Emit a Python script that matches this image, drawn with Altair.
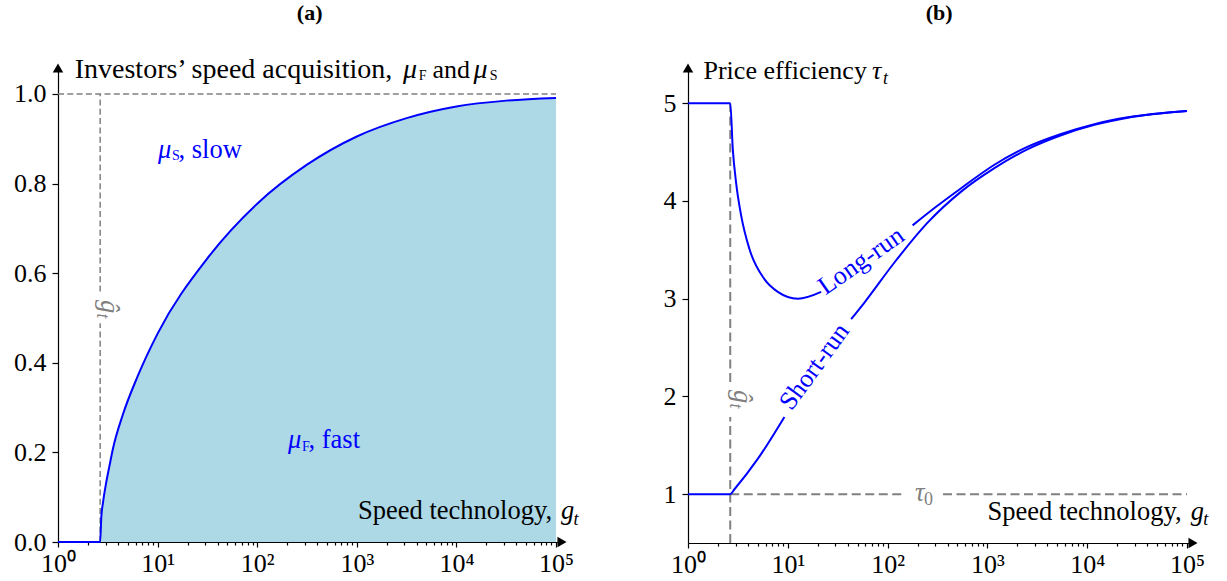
import altair as alt
import pandas as pd

FONT = "Liberation Serif"
FS = 26.5
TICK_FS = 26
SUB = 18
SC = 14
BLUE = "#0000ff"
GRAY = "#808080"
FILL = "#add8e6"

G_HAT = 2.65
X_MAX = 10 ** 5.06

MAJOR_X = [1, 10, 100, 1000, 10000, 100000]
MINOR_X = [m * 10 ** k for k in range(5) for m in range(2, 10)]
LEFT_Y_TICKS = [0.0, 0.2, 0.4, 0.6, 0.8, 1.0]
RIGHT_Y_TICKS = [1, 2, 3, 4, 5]

# ---- panel (a): fast investors' share mu_F vs speed technology g_t
g_a = [1.0, 2.65, 2.72, 2.83, 3.06, 3.30, 3.56, 4.49, 6.31, 10, 31.6, 100,
       316, 1000, 3162, 10000, 31623, 100000]
mu_fast = [0.0, 0.0, 0.055, 0.088, 0.135, 0.172, 0.208, 0.285, 0.37, 0.465, 0.633, 0.755,
           0.842, 0.905, 0.946, 0.972, 0.985, 0.991]

# ---- panel (b): price efficiency tau_t
g_long = [1.0, 2.65, 2.81, 3.03, 3.41, 4.12, 5.83, 7.94, 12.6, 21.6, 38.3, 68.2,
          108, 178, 306, 545, 1175, 2540, 5480, 11800, 25500, 100000]
tau_long = [5.0, 5.0, 4.53, 4.19, 3.85, 3.51, 3.20, 3.07, 3.00, 3.07, 3.22, 3.42,
            3.58, 3.75, 3.94, 4.13, 4.37, 4.555, 4.685, 4.785, 4.855, 4.92]
g_short = [1.0, 2.65, 2.92, 5.0, 9.25, 17.1, 27.2, 43.1, 58.6, 117, 253, 545,
           1175, 2540, 5480, 11800, 25500, 100000]
tau_short = [1.0, 1.0, 1.05, 1.36, 1.79, 2.20, 2.50, 2.79, 2.96, 3.37, 3.78, 4.095,
             4.335, 4.53, 4.672, 4.778, 4.852, 4.92]

LONG_GAP = (21.6, 178)
SHORT_GAP = (9.25, 43.1)

LABEL_EXPR = "'10' + ['\u2070','\u00b9','\u00b2','\u00b3','\u2074','\u2075'][round(log(datum.value) / LN10)]"


def xdef():
    return alt.X("g:Q",
                 scale=alt.Scale(type="log", domain=[1, X_MAX], nice=False),
                 axis=alt.Axis(values=MAJOR_X, labelExpr=LABEL_EXPR, tickSize=5,
                               labelPadding=3, title=None, grid=False, orient="bottom",
                               labelFlush=False, labelOverlap=False))


def xminor():
    return alt.X("g:Q",
                 scale=alt.Scale(type="log", domain=[1, X_MAX], nice=False),
                 axis=alt.Axis(values=MINOR_X, labels=False, domain=False, tickSize=3,
                               title=None, grid=False, orient="bottom"))


def ydef(domain, ticks, fmt):
    return alt.Y("v:Q",
                 scale=alt.Scale(domain=domain, nice=False, zero=False),
                 axis=alt.Axis(values=ticks, format=fmt, tickSize=6, labelPadding=6,
                               title=None, grid=False, labelFlush=False, labelOverlap=False))


def ptext(text, x, y, size=FS, color="black", italic=False, bold=False,
          align="left", baseline="alphabetic", angle=0):
    kw = dict(font=FONT, fontSize=size, color=color, align=align, baseline=baseline)
    if italic:
        kw["fontStyle"] = "italic"
    if bold:
        kw["fontWeight"] = "bold"
    if angle:
        kw["angle"] = angle
    return alt.Chart(pd.DataFrame({"t": [text]})).mark_text(**kw).encode(
        x=alt.value(x), y=alt.value(y), text="t:N")


def rules(rows, X, Y, width, dash):
    df = pd.DataFrame(rows, columns=["g", "g2", "v", "v2"])
    return alt.Chart(df).mark_rule(color=GRAY, strokeWidth=width, strokeDash=dash).encode(
        x=X, x2="g2:Q", y=Y, y2="v2:Q")


def arrows(X, Y, ymin, ymax):
    a1 = alt.Chart(pd.DataFrame({"g": [X_MAX], "v": [ymin]})).mark_point(
        shape="triangle-right", filled=True, color="black", size=110, opacity=1).encode(x=X, y=Y)
    a2 = alt.Chart(pd.DataFrame({"g": [1.0], "v": [ymax]})).mark_point(
        shape="triangle-up", filled=True, color="black", size=110, opacity=1).encode(x=X, y=Y)
    return [a1, a2]


def panel(layers, Y, ymin, W, H):
    inner = alt.layer(*layers)
    minor = alt.Chart(pd.DataFrame({"g": [1.0], "v": [ymin]})).mark_point(
        opacity=0).encode(x=xminor(), y=Y)
    return alt.layer(inner, minor).resolve_axis(x="independent").properties(width=W, height=H)


# ================= panel (a) =================
YA_DOM = [0, 1.0578]
Xa = xdef()
Ya = ydef(YA_DOM, LEFT_Y_TICKS, ".1f")
df_a = pd.DataFrame({"g": g_a, "v": mu_fast})

area_a = alt.Chart(df_a).mark_area(color=FILL, opacity=1, interpolate="monotone").encode(x=Xa, y=Ya)
line_a = alt.Chart(df_a).mark_line(color=BLUE, strokeWidth=2, interpolate="monotone").encode(x=Xa, y=Ya)
dash_a = rules([[1.0, 100000, 1.0, 1.0],
                [G_HAT, G_HAT, 0.0, 0.488],
                [G_HAT, G_HAT, 0.559, 1.0]], Xa, Ya, 1.5, [6, 3.3])

text_a = [
    ptext("(a)", 251.7, -48.4, size=22, bold=True, align="center"),
    ptext("Investors\u2019 speed acquisition,", 16.7, 10.3, size=28),
    ptext("\u03bc", 345.0, 10.3, size=28, italic=True),
    ptext("F", 360.7, 11.5, size=SC),
    ptext("and", 374.5, 10.3, size=26),
    ptext("\u03bc", 415.5, 10.3, size=28, italic=True),
    ptext("S", 431.7, 11.5, size=SC),
    ptext("\u03bc", 100.0, 89.6, italic=True, color=BLUE),
    ptext("S", 114.0, 91.6, size=SC, color=BLUE),
    ptext(", slow", 120.5, 89.6, color=BLUE),
    ptext("\u03bc", 230.0, 380.3, italic=True, color=BLUE),
    ptext("F", 244.0, 382.9, size=SC, color=BLUE),
    ptext(", fast", 250.5, 380.3, color=BLUE),
    ptext("Speed technology,", 300.0, 451.1),
    ptext("g", 503.0, 451.1, italic=True),
    ptext("t", 515.5, 457.1, size=SUB, italic=True),
    ptext("\u011d", 43.4, 231.9, italic=True, color=GRAY, angle=90),
    ptext("t", 39.4, 245.4, size=SUB, italic=True, color=GRAY, angle=90),
]

left = panel([area_a, dash_a, line_a] + arrows(Xa, Ya, YA_DOM[0], YA_DOM[1]) + text_a,
             Ya, YA_DOM[0], 504, 474)

# ================= panel (b) =================
YB_DOM = [0.5, 5.36]
Xb = xdef()
Yb = ydef(YB_DOM, RIGHT_Y_TICKS, "d")


def seg_df(gs, vs, gap):
    rows = []
    for g, v in zip(gs, vs):
        if g <= gap[0]:
            rows.append({"g": g, "v": v, "seg": 0})
        elif g >= gap[1]:
            rows.append({"g": g, "v": v, "seg": 1})
    return pd.DataFrame(rows)


long_line = alt.Chart(seg_df(g_long, tau_long, LONG_GAP)).mark_line(
    color=BLUE, strokeWidth=2, interpolate="monotone").encode(x=Xb, y=Yb, detail="seg:N")
short_line = alt.Chart(seg_df(g_short, tau_short, SHORT_GAP)).mark_line(
    color=BLUE, strokeWidth=2, interpolate="monotone").encode(x=Xb, y=Yb, detail="seg:N")
dash_b = rules([[G_HAT, G_HAT, 0.5, 1.788],
                [G_HAT, G_HAT, 2.147, 5.0],
                [G_HAT, 149, 1.0, 1.0],
                [359, 100000, 1.0, 1.0]], Xb, Yb, 2, [9, 4.5])

text_b = [
    ptext("(b)", 251.1, -48.4, size=22, bold=True, align="center"),
    ptext("Price efficiency", 15.5, 11.1, size=26),
    ptext("\u03c4", 184.1, 11.1, size=26, italic=True),
    ptext("t", 195.0, 16.2, size=SUB, italic=True),
    ptext("Speed technology,", 299.6, 451.5),
    ptext("g", 502.7, 451.5, italic=True),
    ptext("t", 515.2, 457.3, size=SUB, italic=True),
    ptext("\u03c4", 227.1, 433.2, italic=True, color=GRAY),
    ptext("0", 235.9, 436.6, size=SUB, color=GRAY),
    ptext("\u011d", 46.1, 321.9, italic=True, color=GRAY, angle=90),
    ptext("t", 42.1, 335.4, size=SUB, italic=True, color=GRAY, angle=90),
    ptext("Long-run", 173.1, 192.9, size=26, color=BLUE, align="center", baseline="middle", angle=325),
    ptext("Short-run", 126.4, 298.6, size=26, color=BLUE, align="center", baseline="middle", angle=306),
]

right = panel([dash_b, long_line, short_line] + arrows(Xb, Yb, YB_DOM[0], YB_DOM[1]) + text_b,
              Yb, YB_DOM[0], 505, 475)

chart = alt.hconcat(left, right, spacing=84).properties(
    padding={"left": 13, "top": 1, "right": 5, "bottom": 5},
    background="white",
).configure_view(stroke=None).configure_axis(
    domainColor="black", tickColor="black", labelColor="black",
    labelFont=FONT, labelFontSize=TICK_FS, domainWidth=1.2, tickWidth=1.2,
)

chart.save("out.html", embed_options={"renderer": "svg", "actions": False})
